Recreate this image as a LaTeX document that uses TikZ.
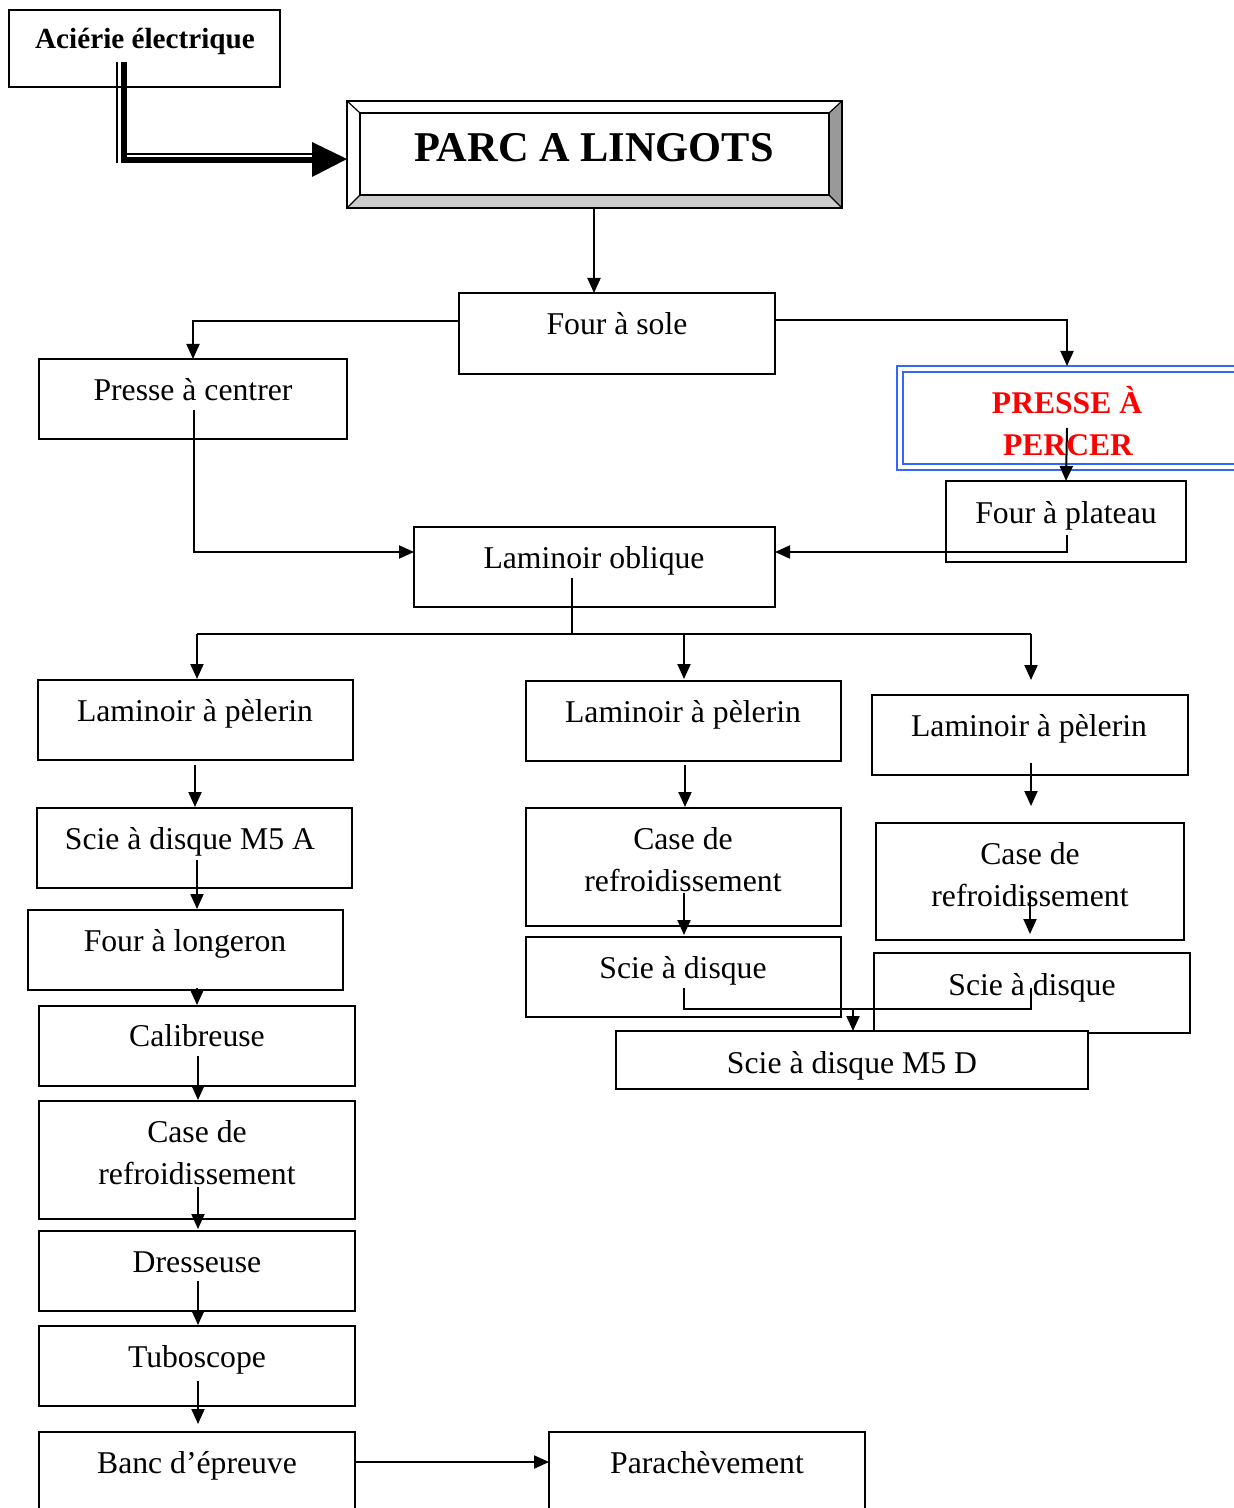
\documentclass[tikz,border=0pt]{standalone}
\usepackage{fontspec}
\setmainfont{Liberation Serif}
\usetikzlibrary{arrows.meta,calc}
\definecolor{pblue}{HTML}{3366FF}
\tikzset{
  box/.style={draw, line width=1pt, fill=white, rectangle, inner sep=0pt, outer sep=0pt},
  txt/.style={font=\fontsize{15.85}{21}\selectfont, inner sep=0pt, anchor=base},
  arr/.style={line width=1pt, -{Triangle[length=7.5pt,width=6.5pt]}},
  ln/.style={line width=1pt},
}
\newcommand\pbox[5]{\node[box, minimum width={(#4-#2)*0.5pt}, minimum height={(#5-#3)*0.5pt}] (#1) at ({(#2+#4)/2},{(#3+#5)/2}) {};}
\begin{document}
\begin{tikzpicture}[x=0.5pt,y=-0.5pt]
\useasboundingbox (0,0) rectangle (1234,1508);
\clip (0,0) rectangle (1234,1508);
\fill[white] (0,0) rectangle (1234,1508);
% boxes
\pbox{aci}{9}{10}{280}{87}
\node[inner sep=0pt, minimum width={495*0.5pt}, minimum height={107*0.5pt}] (parc) at (594.5,154.5) {};
\fill[black!40] (829,113) -- (842,101) -- (842,208) -- (829,195) -- cycle;
\fill[black!20] (360,195) -- (829,195) -- (842,208) -- (347,208) -- cycle;
\draw[line width=1pt] (parc.north west) rectangle (parc.south east);
\draw[line width=1pt] (360,113) rectangle (829,195);
\draw[line width=0.6pt] (347,101) -- (360,113) (842,101) -- (829,113) (842,208) -- (829,195) (347,208) -- (360,195);
\pbox{fs}{459}{293}{775}{374}
\pbox{pc}{39}{359}{347}{439}
\node[draw=pblue, line width=1.3pt, fill=white, inner sep=0pt, minimum width={346*0.5pt}, minimum height={104*0.5pt}] (pp) at (1070,418) {};
\draw[pblue, line width=1.3pt] (903,372) rectangle (1250,464);
\pbox{fp}{946}{481}{1186}{562}
\pbox{lo}{414}{527}{775}{607}
\pbox{lp1}{38}{680}{353}{760}
\pbox{lp2}{526}{681}{841}{761}
\pbox{lp3}{872}{695}{1188}{775}
\pbox{m5a}{37}{808}{352}{888}
\pbox{fl}{28}{910}{343}{990}
\pbox{cal}{39}{1006}{355}{1086}
\pbox{cr1}{39}{1101}{355}{1219}
\pbox{dr}{39}{1231}{355}{1311}
\pbox{tu}{39}{1326}{355}{1406}
\pbox{ba}{39}{1432}{355}{1530}
\pbox{pa}{549}{1432}{865}{1530}
\pbox{cr2}{526}{808}{841}{926}
\pbox{sd2}{526}{937}{841}{1017}
\pbox{cr3}{876}{823}{1184}{940}
\pbox{sd3}{874}{953}{1190}{1033}
\pbox{m5d}{616}{1031}{1088}{1089}
% texts
\node[txt, font=\fontsize{14.6}{18}\selectfont\bfseries] (aci-t) at (145,49) {Aciérie électrique};
\node[txt, font=\fontsize{21.2}{26}\selectfont\bfseries] (parc-t) at (594,162) {PARC A LINGOTS};
\node[txt] (fs-t) at (617,335) {Four à sole};
\node[txt] (pc-t) at (193,400) {Presse à centrer};
\node[txt, font=\fontsize{15.8}{21}\selectfont\bfseries, text=red] (pp-t1) at (1067,413) {PRESSE À};
\node[txt, font=\fontsize{15.8}{21}\selectfont\bfseries, text=red] (pp-t2) at (1068,455) {PERCER};
\node[txt] (fp-t) at (1066,523) {Four à plateau};
\node[txt] (lo-t) at (594,568) {Laminoir oblique};
\node[txt] (lp1-t) at (195,721) {Laminoir à pèlerin};
\node[txt] (lp2-t) at (683,722) {Laminoir à pèlerin};
\node[txt] (lp3-t) at (1029,736) {Laminoir à pèlerin};
\node[txt] (m5a-t) at (190,849) {Scie à disque M5 A};
\node[txt] (fl-t) at (185,951) {Four à longeron};
\node[txt] (cal-t) at (197,1046) {Calibreuse};
\node[txt] (cr1-t1) at (197,1142) {Case de};
\node[txt] (cr1-t2) at (197,1184) {refroidissement};
\node[txt] (dr-t) at (197,1272) {Dresseuse};
\node[txt] (tu-t) at (197,1367) {Tuboscope};
\node[txt] (ba-t) at (197,1473) {Banc d’épreuve};
\node[txt] (pa-t) at (707,1473) {Parachèvement};
\node[txt] (cr2-t1) at (683,849) {Case de};
\node[txt] (cr2-t2) at (683,891) {refroidissement};
\node[txt] (sd2-t) at (683,978) {Scie à disque};
\node[txt] (cr3-t1) at (1030,864) {Case de};
\node[txt] (cr3-t2) at (1030,906) {refroidissement};
\node[txt] (sd3-t) at (1032,995) {Scie à disque};
\node[txt] (m5d-t) at (852,1073) {Scie à disque M5 D};
% connectors
\coordinate (a0) at (124,62);
\coordinate (a1) at (124,160);
\coordinate (a2) at (312,160);
\draw[line width=3pt] (a0) -- (a1) -- (a2);
\draw[line width=0.6pt] (117,62) -- (117,163);
\draw[line width=0.6pt] (127,154) -- (312,154);
\fill (312,142) -- (347,159) -- (312,177) -- cycle;
\coordinate (ps) at (594,208);
\coordinate (fsn) at (594,293);
\draw[arr] (ps) -- (fsn);
\draw[arr] ([yshift=6pt]fs.west) -| (pc.north);
\coordinate (ppn) at (1067,366);
\draw[arr] ([yshift=6.5pt]fs.east) -| (ppn);
\coordinate (pps) at (1067,428);
\draw[arr] (pps) -- (fp.north);
\coordinate (pcs) at (194,410);
\draw[arr] (pcs) |- ([yshift=7.5pt]lo.west);
\coordinate (fps) at (1067,535);
\draw[arr] (fps) |- ([yshift=7.5pt]lo.east);
\coordinate (los) at (572,578);
\coordinate (bus) at (572,634);
\draw[ln] (los) -- (bus);
\coordinate (b1) at (197,634);
\coordinate (b2) at (684,634);
\coordinate (b3) at (1031,634);
\draw[ln] (b1) -- (b3);
\coordinate (e1) at (197,679);
\coordinate (e2) at (684,679);
\coordinate (e3) at (1031,680);
\draw[arr] (b1) -- (e1);
\draw[arr] (b2) -- (e2);
\draw[arr] (b3) -- (e3);
% left column
\draw[arr] (195,765) -- (195,807);
\draw[arr] (197,860) -- (197,909);
\draw[arr] (197,988) -- (197,1005);
\draw[arr] (198,1056) -- (198,1100);
\draw[arr] (198,1187) -- (198,1229);
\draw[arr] (198,1281) -- (198,1325);
\draw[arr] (198,1381) -- (198,1424);
\coordinate (bae) at (355,1462);
\coordinate (paw) at (549,1462);
\draw[arr] (bae) -- (paw);
% middle and right
\draw[arr] (685,765) -- (685,807);
\draw[arr] (684,893) -- (684,935);
\draw[arr] (1031,763) -- (1031,806);
\draw[arr] (1030,893) -- (1030,934);
\coordinate (s2) at (684,988);
\coordinate (s3) at (1031,988);
\coordinate (jn) at (853,1009);
\coordinate (m5top) at (853,1031);
\draw[ln] (s2) |- (1031,1009) -- (s3);
\draw[arr] (jn) -- (m5top);
\end{tikzpicture}
\end{document}
